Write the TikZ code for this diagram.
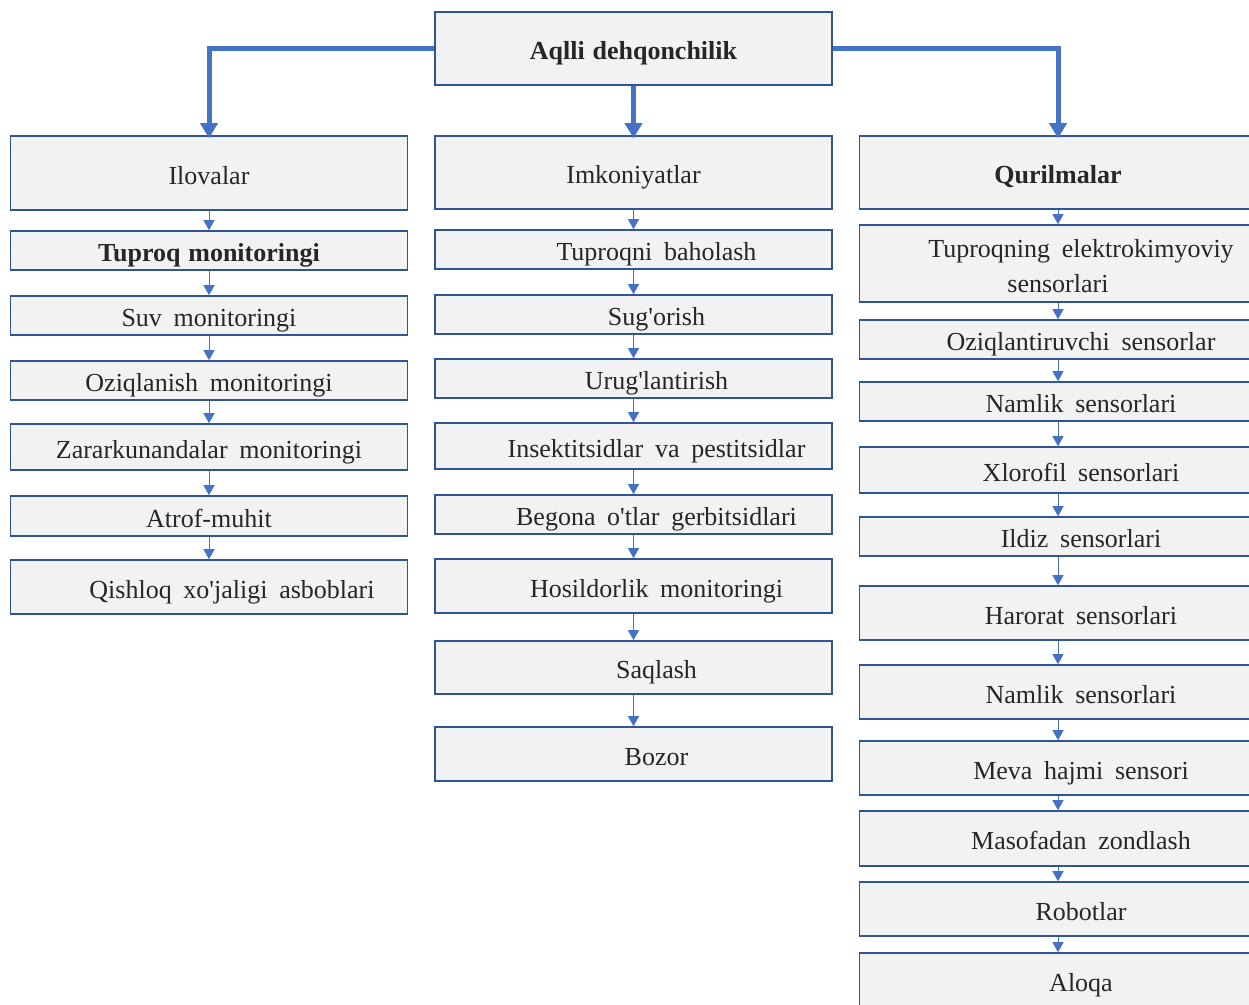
\documentclass[tikz,border=0pt]{standalone}
\usepackage{fontspec}
\setmainfont{Liberation Serif}
\usetikzlibrary{arrows.meta}
\definecolor{linkblue}{HTML}{4472C4}
\definecolor{edgeblue}{HTML}{2F5597}
\definecolor{boxgray}{HTML}{F2F2F2}
\newcommand{\ind}{\hspace*{46pt}}
\newcommand{\widespace}{\spaceskip 0.45em\relax}
\newcommand{\q}{\textquotesingle}
\begin{document}
\begin{tikzpicture}[x=1pt,y=-1pt,
  box/.style={draw=edgeblue, line width=1.6pt, fill=boxgray, minimum width=397pt, inner sep=0pt, align=center,
    text height=22pt, text depth=0pt,
    font={\fontsize{26}{35}\selectfont\widespace}, text=black!85},
  bigarrow/.style={line width=5pt, draw=linkblue, -{Triangle[width=17pt,length=15pt]}},
  smallarrow/.style={line width=1pt, draw=linkblue, -{Triangle[width=11pt,length=10pt]}}]
\useasboundingbox (0,0) rectangle (1249,1004);
\clip (0,0) rectangle (1249,1004);
% top
\node[box, minimum height=73pt] (top) at (633.5,48.5) {\bfseries\spaceskip 0.3em Aqlli dehqonchilik};
% Ilovalar column
\node[box, minimum height=74pt] (ilovalar) at (209,173) {Ilovalar};
\node[box, minimum height=39pt] (tuproqmon) at (209,250.5) {\bfseries\spaceskip 0.3em Tuproq monitoringi};
\node[box, minimum height=39pt] (suvmon) at (209,315.5) {Suv monitoringi};
\node[box, minimum height=39pt] (oziqmon) at (209,380.5) {Oziqlanish monitoringi};
\node[box, minimum height=46pt] (zararmon) at (209,447) {Zararkunandalar monitoringi};
\node[box, minimum height=40pt] (atrof) at (209,516) {Atrof-muhit};
\node[box, minimum height=54pt] (asbob) at (209,587) {\ind Qishloq xo\q jaligi asboblari};
% Imkoniyatlar column
\node[box, minimum height=73pt] (imkon) at (633.5,172.5) {Imkoniyatlar};
\node[box, minimum height=39pt] (baholash) at (633.5,249.5) {\ind Tuproqni baholash};
\node[box, minimum height=39pt] (sugorish) at (633.5,314.5) {\ind Sug\q orish};
\node[box, minimum height=39pt] (urug) at (633.5,378.5) {\ind Urug\q lantirish};
\node[box, minimum height=46pt] (insekt) at (633.5,446) {\ind Insektitsidlar va pestitsidlar};
\node[box, minimum height=39pt] (begona) at (633.5,514.5) {\ind Begona o\q tlar gerbitsidlari};
\node[box, minimum height=54pt] (hosil) at (633.5,586) {\ind Hosildorlik monitoringi};
\node[box, minimum height=53pt] (saqlash) at (633.5,667.5) {\ind Saqlash};
\node[box, minimum height=54pt] (bozor) at (633.5,754) {\ind Bozor};
% Qurilmalar column
\node[box, minimum height=73pt] (quril) at (1058,172.5) {\bfseries Qurilmalar};
\node[box, minimum height=77pt, text height={}, text depth={}] (elektro) at (1058,263.5)
  {\rule{0pt}{24pt}\ind Tuproqning elektrokimyoviy\\sensorlari};
\node[box, minimum height=39pt] (oziqsens) at (1058,339.5) {\ind Oziqlantiruvchi sensorlar};
\node[box, minimum height=39pt] (namlik) at (1058,401.5) {\ind Namlik sensorlari};
\node[box, minimum height=46pt] (xlorofil) at (1058,470) {\ind Xlorofil sensorlari};
\node[box, minimum height=39pt] (ildiz) at (1058,536.5) {\ind Ildiz sensorlari};
\node[box, minimum height=54pt] (harorat) at (1058,613) {\ind Harorat sensorlari};
\node[box, minimum height=54pt] (namlikb) at (1058,692) {\ind Namlik sensorlari};
\node[box, minimum height=54pt] (meva) at (1058,768) {\ind Meva hajmi sensori};
\node[box, minimum height=55pt] (masofa) at (1058,838.5) {\ind Masofadan zondlash};
\node[box, minimum height=54pt] (robot) at (1058,909) {\ind Robotlar};
\node[box, minimum height=54pt] (aloqa) at (1058,980) {\ind Aloqa};
% main arrows
\draw[bigarrow] (top.west) -| ([yshift=-3pt]ilovalar.north);
\draw[bigarrow] (top.south) -- ([yshift=-3pt]imkon.north);
\draw[bigarrow] (top.east) -| ([yshift=-3pt]quril.north);
% chains
\foreach \a/\b in {ilovalar/tuproqmon, tuproqmon/suvmon, suvmon/oziqmon, oziqmon/zararmon, zararmon/atrof, atrof/asbob,
  imkon/baholash, baholash/sugorish, sugorish/urug, urug/insekt, insekt/begona, begona/hosil, hosil/saqlash, saqlash/bozor,
  quril/elektro, elektro/oziqsens, oziqsens/namlik, namlik/xlorofil, xlorofil/ildiz, ildiz/harorat, harorat/namlikb,
  namlikb/meva, meva/masofa, masofa/robot, robot/aloqa}
  \draw[smallarrow] (\a.south) -- (\b.north);
\end{tikzpicture}
\end{document}
